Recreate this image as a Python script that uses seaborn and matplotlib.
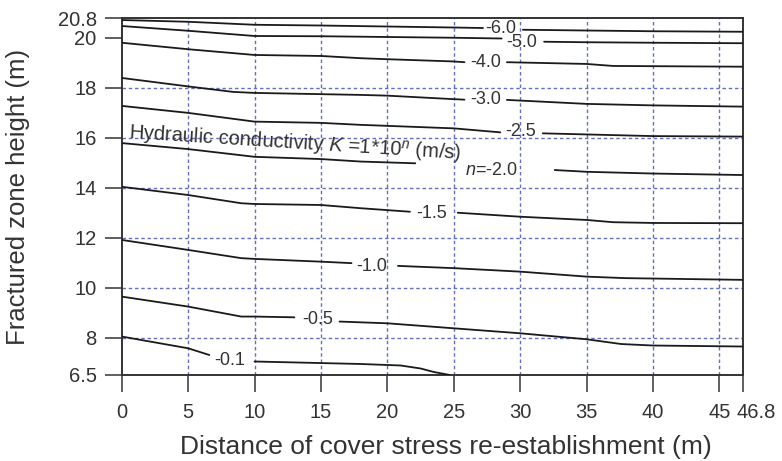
import numpy as np
import pandas as pd
import matplotlib
matplotlib.use("Agg")
import matplotlib.pyplot as plt
import matplotlib.transforms as mtransforms
import seaborn as sns

nan = np.nan

# ---- data: contour lines of log10 hydraulic conductivity (NaN = label gap) ----
x_60 = [0, 5, 10, 15, 20, 25, 27.2, nan, 30.2, 35, 40, 46.8]
y_60 = [20.72, 20.65, 20.53, 20.50, 20.46, 20.42, 20.40, nan, 20.33, 20.30, 20.27, 20.25]

x_50 = [0, 5, 10, 15, 20, 25, 28.6, nan, 31.8, 35, 40, 46.8]
y_50 = [20.48, 20.29, 20.08, 20.07, 20.04, 20.01, 19.98, nan, 19.85, 19.83, 19.81, 19.79]

x_40 = [0, 5, 10, 15, 18, 20, 25, 25.8, nan, 29.0, 35, 37, 46.8]
y_40 = [19.81, 19.55, 19.32, 19.28, 19.19, 19.15, 19.06, 19.03, nan, 19.03, 18.96, 18.88, 18.85]

x_30 = [0, 5, 8.4, 10, 15, 18, 20, 25, 25.8, nan, 29.0, 35, 40, 46.8]
y_30 = [18.40, 18.06, 17.84, 17.80, 17.75, 17.72, 17.69, 17.55, 17.53, nan, 17.52, 17.36, 17.30, 17.25]

x_25 = [0, 5, 10, 15, 18, 25, 28.5, nan, 31.7, 40, 46.8]
y_25 = [17.28, 17.00, 16.65, 16.60, 16.52, 16.38, 16.22, nan, 16.18, 16.07, 16.05]

x_20 = [0, 5, 10, 15, 18, 22.1, nan, 32.6, 35, 40, 46.8]
y_20 = [15.79, 15.55, 15.24, 15.15, 15.05, 14.98, nan, 14.71, 14.64, 14.57, 14.51]

x_15 = [0, 5, 9, 10, 15, 18, 21.7, nan, 25.3, 30, 35, 37, 40, 46.8]
y_15 = [14.04, 13.71, 13.38, 13.35, 13.31, 13.18, 13.04, nan, 13.00, 12.84, 12.71, 12.62, 12.59, 12.58]

x_10 = [0, 5, 9, 10, 15, 17.3, nan, 20.8, 25, 30, 35, 37.9, 46.8]
y_10 = [11.91, 11.51, 11.18, 11.15, 11.04, 10.98, nan, 10.87, 10.78, 10.64, 10.44, 10.38, 10.31]

x_05 = [0, 5, 9, 10, 13.0, nan, 16.4, 20, 25, 30, 35, 37.6, 40, 46.8]
y_05 = [9.64, 9.24, 8.84, 8.84, 8.81, nan, 8.64, 8.57, 8.37, 8.17, 7.93, 7.74, 7.68, 7.64]

x_01 = [0, 5, 6.6, nan, 10, 18, 21, 22.5, 23.5, 24.7]
y_01 = [8.04, 7.57, 7.30, nan, 7.04, 6.94, 6.88, 6.76, 6.62, 6.50]

levels = ["-6.0", "-5.0", "-4.0", "-3.0", "-2.5", "-2.0", "-1.5", "-1.0", "-0.5", "-0.1"]
xs = [x_60, x_50, x_40, x_30, x_25, x_20, x_15, x_10, x_05, x_01]
ys = [y_60, y_50, y_40, y_30, y_25, y_20, y_15, y_10, y_05, y_01]

# inline label positions (x, y) and texts
label_text = ["-6.0", "-5.0", "-4.0", "-3.0", "-2.5", "$n$=-2.0", "-1.5", "-1.0", "-0.5", "-0.1"]
label_x = [28.5, 30.1, 27.4, 27.4, 30.0, 27.8, 23.35, 18.8, 14.75, 8.15]
label_y = [20.39, 19.80, 19.00, 17.52, 16.25, 14.71, 12.98, 10.84, 8.71, 7.10]

x_ticks = [0, 5, 10, 15, 20, 25, 30, 35, 40, 45, 46.8]
x_tick_labels = ["0", "5", "10", "15", "20", "25", "30", "35", "40", "45", "46.8"]
y_ticks = [6.5, 8, 10, 12, 14, 16, 18, 20, 20.8]
y_tick_labels = ["6.5", "8", "10", "12", "14", "16", "18", "20", "20.8"]
grid_x = [5, 10, 15, 20, 25, 30, 35, 40, 45]
grid_y = [8, 10, 12, 14, 16, 18]

# ---- build long-form table, splitting at gaps ----
rows = []
seg_id = 0
for lev, xx, yy in zip(levels, xs, ys):
    seg_id += 1
    for a, b in zip(xx, yy):
        if np.isnan(a):
            seg_id += 1
            continue
        rows.append({"level": lev, "seg": seg_id, "x": a, "y": b})
df = pd.DataFrame(rows)

# ---- style ----
sns.set_theme(style="white")
plt.rcParams["font.family"] = ["Liberation Sans", "DejaVu Sans"]
plt.rcParams["mathtext.fontset"] = "custom"
plt.rcParams["mathtext.rm"] = "Liberation Sans"
plt.rcParams["mathtext.it"] = "Liberation Sans:italic"

TXT = "#333333"
fig = plt.figure(figsize=(7.82, 4.61), dpi=100)
ax = fig.add_axes([0.1556, 0.1866, 0.7950, 0.7743])

for gx in grid_x:
    ax.axvline(gx, color="#5261b8", lw=1.0, ls=(0, (2.5, 2)), zorder=1, alpha=0.9)
for gy in grid_y:
    ax.axhline(gy, color="#5261b8", lw=1.0, ls=(0, (2.5, 2)), zorder=1, alpha=0.9)

sns.lineplot(data=df, x="x", y="y", units="seg", estimator=None, sort=False,
             color="#1a1a1a", lw=1.3, ax=ax, legend=False, zorder=3)

for t, lx, ly in zip(label_text, label_x, label_y):
    ax.text(lx, ly, t, ha="center", va="center", fontsize=13, color=TXT, zorder=4)

ax.text(0.47, 15.95, "Hydraulic conductivity $K$ =1*10$^n$ (m/s)", rotation=-3.6,
        rotation_mode="anchor", ha="left", va="baseline", fontsize=14.5, color=TXT, zorder=4)

ax.set_xlim(0, 46.8)
ax.set_ylim(6.5, 20.8)
ax.set_xticks(x_ticks)
ax.set_xticklabels(x_tick_labels)
ax.set_yticks(y_ticks)
ax.set_yticklabels(y_tick_labels)
ax.tick_params(axis="both", direction="out", length=12, width=1.2, color="#444444",
               labelsize=14.5, labelcolor=TXT, bottom=True, left=True)
ax.tick_params(axis="x", pad=8)
ax.tick_params(axis="y", pad=6)
for sp in ax.spines.values():
    sp.set_visible(True)
    sp.set_color("#333333")
    sp.set_linewidth(1.4)

# last x tick label sits to the right of its tick
last = ax.get_xticklabels()[-1]
last.set_horizontalalignment("left")
last.set_transform(last.get_transform() + mtransforms.ScaledTranslation(-7 / 100, 0, fig.dpi_scale_trans))

ax.set_xlabel("Distance of cover stress re-establishment (m)", fontsize=19, color=TXT)
ax.xaxis.set_label_coords(0.522, -0.168)
ax.set_ylabel("Fractured zone height (m)", fontsize=18.5, color=TXT)
ax.yaxis.set_label_coords(-0.148, 0.5)

fig.savefig("out.png", dpi=100)
